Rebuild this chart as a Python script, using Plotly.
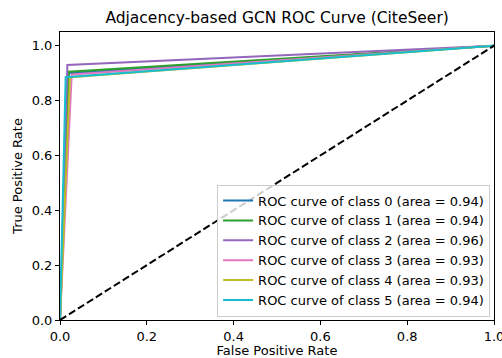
import plotly.graph_objects as go

classes = ["0", "1", "2", "3", "4", "5"]
areas = ["0.94", "0.94", "0.96", "0.93", "0.93", "0.94"]
fpr_values = [[0.0, 0.020, 1.0], [0.0, 0.020, 1.0], [0.0, 0.017, 1.0],
              [0.0, 0.027, 1.0], [0.0, 0.023, 1.0], [0.0, 0.013, 1.0]]
tpr_values = [[0.0, 0.900, 1.0], [0.0, 0.905, 1.0], [0.0, 0.930, 1.0],
              [0.0, 0.895, 1.0], [0.0, 0.885, 1.0], [0.0, 0.885, 1.0]]
colors = ["#1f77b4", "#2ca02c", "#9467bd", "#e377c2", "#bcbd22", "#17becf"]
diag_x = [0.0, 1.0]
diag_y = [0.0, 1.0]
x_ticks = [0.0, 0.2, 0.4, 0.6, 0.8, 1.0]
y_ticks = [0.0, 0.2, 0.4, 0.6, 0.8, 1.0]

fig = go.Figure()
for c, a, fx, ty, col in zip(classes, areas, fpr_values, tpr_values, colors):
    fig.add_trace(go.Scatter(x=fx, y=ty, mode="lines",
                             line=dict(color=col, width=2),
                             name=f"ROC curve of class {c} (area = {a})"))
fig.add_trace(go.Scatter(x=diag_x, y=diag_y, mode="lines",
                         line=dict(color="black", width=2, dash="7.4px,3.2px"),
                         showlegend=False))

font = "DejaVu Sans"
fs = 13
axis_common = dict(showline=True, linecolor="black", linewidth=1, mirror=True,
                   ticks="outside", ticklen=4, tickcolor="black", tickwidth=1,
                   showgrid=False, zeroline=False, automargin=False,
                   ticklabeloverflow="allow",
                   tickfont=dict(family=font, size=fs, color="black"))
fig.update_layout(
    width=502, height=358,
    margin=dict(l=60, r=8, t=32, b=38),
    plot_bgcolor="white", paper_bgcolor="white",
    title=dict(text="Adjacency-based GCN ROC Curve (CiteSeer)", x=0.552, xanchor="center",
               y=0.95, yanchor="middle",
               font=dict(family=font, size=15.5, color="black")),
    xaxis=dict(range=[0, 1], tickvals=x_ticks, ticktext=[f"{v:.1f}" for v in x_ticks],
               title=dict(text="False Positive Rate", standoff=5,
                          font=dict(family=font, size=fs, color="black")),
               **axis_common),
    yaxis=dict(range=[0, 1.05], tickvals=y_ticks, ticktext=[f"{v:.1f}" for v in y_ticks],
               title=dict(text="True Positive Rate", standoff=6,
                          font=dict(family=font, size=fs, color="black")),
               **axis_common),
    legend=dict(x=0.991, y=0.012, xanchor="right", yanchor="bottom",
                bgcolor="rgba(255,255,255,0.8)", bordercolor="#cccccc", borderwidth=1,
                font=dict(family=font, size=fs, color="black"),
                tracegroupgap=0, itemwidth=30),
    showlegend=True,
)
fig.write_html("out.html")
